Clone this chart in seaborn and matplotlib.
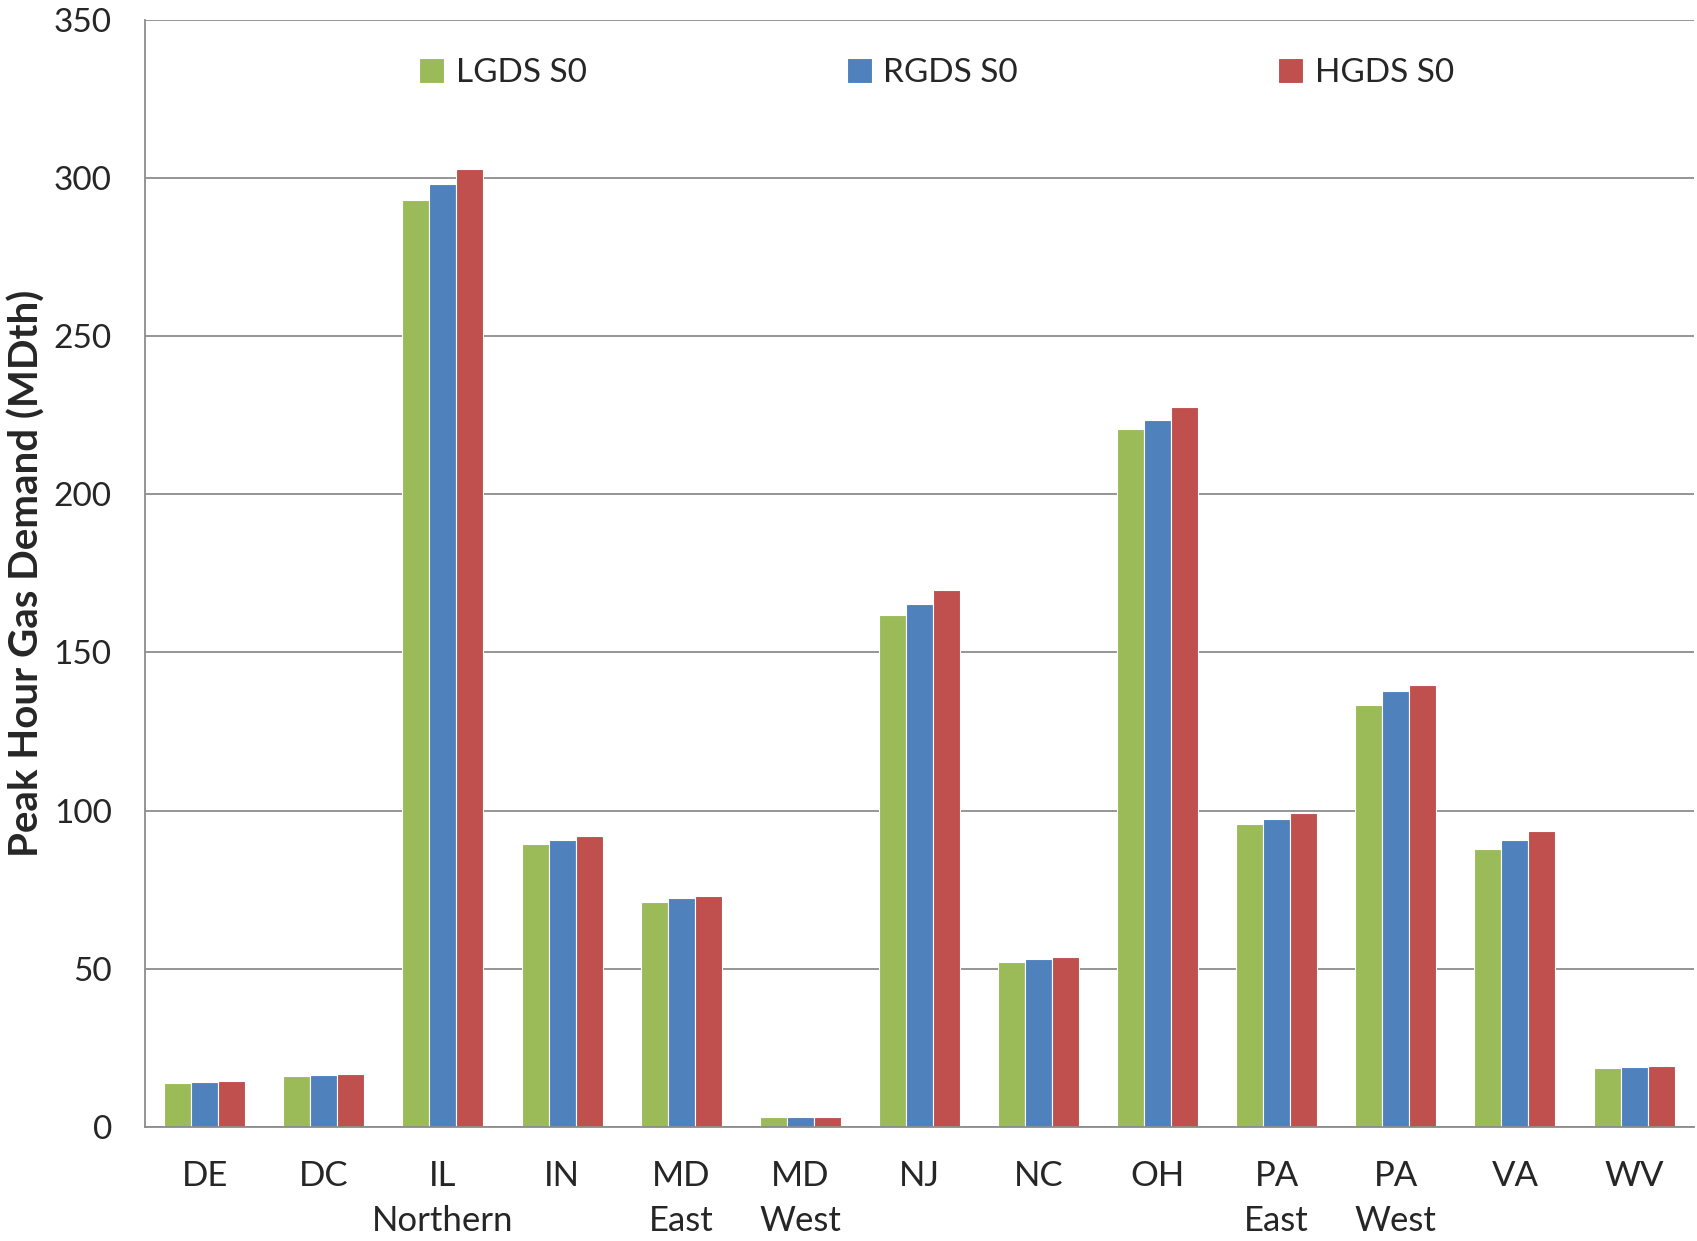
import numpy as np
import pandas as pd
import seaborn as sns
import matplotlib.pyplot as plt
from matplotlib.ticker import FixedLocator

# data
regions = ["DE", "DC", "IL\nNorthern", "IN", "MD\nEast", "MD\nWest", "NJ",
           "NC", "OH", "PA\nEast", "PA\nWest", "VA", "WV"]
lgds = [14.0, 16.0, 293.0, 89.3, 71.2, 3.0, 161.8, 52.0, 220.7, 95.8, 133.4, 87.9, 18.5]
rgds = [14.3, 16.3, 298.0, 90.7, 72.2, 3.0, 165.2, 53.0, 223.4, 97.2, 137.9, 90.7, 18.8]
hgds = [14.6, 16.6, 302.8, 92.0, 72.9, 3.2, 169.7, 53.7, 227.5, 99.2, 139.6, 93.4, 19.2]
series = ["LGDS S0", "RGDS S0", "HGDS S0"]
colors = ["#9BBB59", "#4F81BD", "#C0504D"]

df = pd.DataFrame({
    "region": regions * 3,
    "value": lgds + rgds + hgds,
    "scenario": [series[0]] * 13 + [series[1]] * 13 + [series[2]] * 13,
})

sns.set_style("white")
plt.rcParams["font.family"] = ["Lato", "DejaVu Sans"]

fig = plt.figure(figsize=(16.97, 12.41), dpi=100)
ax = fig.add_axes([0.0855, 0.092, 0.9125, 0.892])

sns.barplot(data=df, x="region", y="value", hue="scenario", palette=colors,
            width=0.68, edgecolor="white", linewidth=0.8, saturation=1, ax=ax)

ax.set_ylim(0, 350)
ax.set_xlim(-0.5, len(regions) - 0.5)
ax.set_yticks(np.arange(0, 351, 50))
ax.yaxis.grid(True, color="#8c8c8c", linewidth=1.3)
ax.set_axisbelow(True)

for s in ["top", "right"]:
    ax.spines[s].set_visible(False)
for s in ["left", "bottom"]:
    ax.spines[s].set_color("#8c8c8c")
    ax.spines[s].set_linewidth(1.3)

ax.tick_params(axis="y", length=10, width=1.3, color="#8c8c8c", labelsize=24, pad=14)
ax.tick_params(axis="x", which="major", length=0, labelsize=25, pad=24)
ax.xaxis.set_minor_locator(FixedLocator(np.arange(-0.5, len(regions), 1)))
ax.tick_params(axis="x", which="minor", length=15, width=1.3, color="#8c8c8c")
for lbl in ax.get_xticklabels():
    lbl.set_linespacing(1.5)
    lbl.set_verticalalignment("top")

ax.set_xlabel("")
ax.set_ylabel("Peak Hour Gas Demand (MDth)", fontsize=29, fontweight="bold", labelpad=6)

ax.legend(loc="center", bbox_to_anchor=(0.511, 0.952), ncol=3, frameon=False,
          fontsize=24, handlelength=0.75, handleheight=0.75, handletextpad=0.35,
          columnspacing=7.8)

fig.savefig("out.png", dpi=100)
